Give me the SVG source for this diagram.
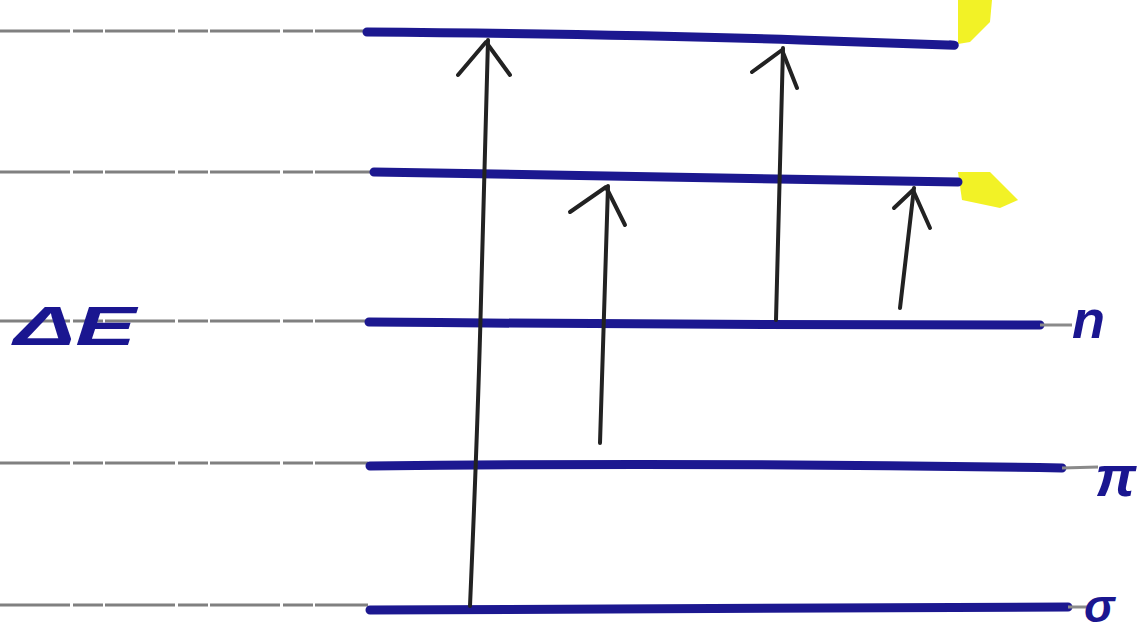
<svg xmlns="http://www.w3.org/2000/svg" width="1143" height="634" viewBox="0 0 1143 634">
<style>
.ref{stroke:#808080;stroke-width:3;fill:none;stroke-dasharray:70 3 30 2}
.lvl{stroke:#1c1890;stroke-width:9;fill:none;stroke-linecap:round}
.tail{stroke:#8a8a8a;stroke-width:3;fill:none}
.arr{stroke:#222;stroke-width:4;fill:none;stroke-linecap:round;stroke-linejoin:round}
.lbl{font-family:"Liberation Sans",Arial,sans-serif;font-weight:bold;font-style:italic;fill:#1a1690}
.hl{fill:#f0f000;opacity:0.85}
</style>
<rect width="1143" height="634" fill="#ffffff"/>
<g id="highlights">
<path class="hl" d="M958,0 L992,0 L990,22 L970,42 L958,44 Z"/>
<path class="hl" d="M958,172 L990,172 L1018,200 L1000,208 L962,200 Z"/>
</g>
<g id="reference-lines">
<path class="ref" d="M0,31 L365,31"/>
<path class="ref" d="M0,172 L372,172"/>
<path class="ref" d="M0,321 L368,321"/>
<path class="ref" d="M0,463 L368,463"/>
<path class="ref" d="M0,605 L368,605"/>
</g>
<g id="level-sigma-star">
<path class="lvl" d="M367,32 Q620,34 800,40 T950,45"/>
</g>
<g id="level-pi-star">
<path class="lvl" d="M374,172 Q650,178 958,182"/>
</g>
<g id="level-n">
<path class="lvl" d="M369,322 Q700,325 1040,325"/>
<path class="tail" d="M1040,325 L1072,325"/>
<text class="lbl" x="1072" y="338" font-size="54">n</text>
</g>
<g id="level-pi">
<path class="lvl" d="M370,466 Q700,462 1062,468"/>
<path class="tail" d="M1062,468 L1098,467"/>
<text class="lbl" x="1095" y="496" font-size="58">π</text>
</g>
<g id="level-sigma">
<path class="lvl" d="M370,610 Q700,608 1068,607"/>
<path class="tail" d="M1068,607 L1090,607"/>
<text class="lbl" x="1084" y="622" font-size="46">σ</text>
</g>
<g id="label-dE">
<text class="lbl" x="14" y="345" font-size="56" textLength="122" lengthAdjust="spacingAndGlyphs">ΔE</text>
</g>
<g id="connectors">
<path class="arr" d="M470,606 Q478,420 481,300 T488,40"/>
<path class="arr" d="M458,75 L486,42 L510,75"/>
<path class="arr" d="M600,443 L608,186"/>
<path class="arr" d="M570,212 L606,187 L625,225"/>
<path class="arr" d="M776,320 L783,48"/>
<path class="arr" d="M752,72 L782,50 L797,88"/>
<path class="arr" d="M900,308 L914,188"/>
<path class="arr" d="M894,208 L913,190 L930,228"/>
</g>
</svg>
